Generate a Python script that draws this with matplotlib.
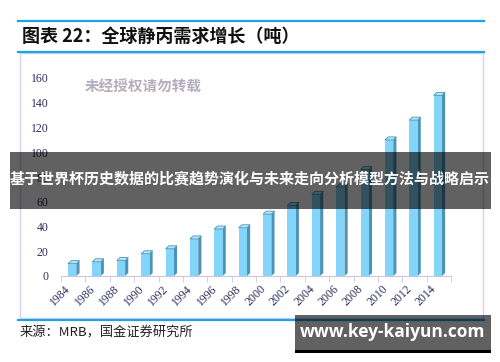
import matplotlib.pyplot as plt
import numpy as np
from matplotlib.patches import Polygon, Rectangle
from matplotlib.lines import Line2D

plt.rcParams['font.family'] = ['Noto Sans CJK SC', 'DejaVu Sans']

years = ['1984', '1986', '1988', '1990', '1992', '1994', '1996', '1998',
         '2000', '2002', '2004', '2006', '2008', '2010', '2012', '2014']
demand = [10, 11.5, 12.5, 18, 22, 30, 38, 39,
          50, 57, 66, 72, 86, 110, 126, 146]
yticks = [0, 20, 40, 60, 80, 100, 120, 140, 160]

title = '图表 22：全球静丙需求增长（吨）'
source = '来源：MRB，国金证券研究所'
stamp = '未经授权请勿转载'
banner = '基于世界杯历史数据的比赛趋势演化与未来走向分析模型方法与战略启示'
site = 'www.key-kaiyun.com'

blue_line = '#1ca2e6'
front = '#84d5fa'
side = '#4d93b4'
top = '#b4e8fc'
tick_col = '#2e2e5e'

fig = plt.figure(figsize=(5, 3.62), dpi=100)
W, H = 500, 362


def fx(px):
    return px / W


def fy(py):
    return 1 - py / H


# frame and header lines
fig.add_artist(Rectangle((fx(20), fy(318)), fx(463), 265 / H, transform=fig.transFigure,
                         fill=False, edgecolor='#d6d6ea', lw=1))
for py in (20.5, 52, 319.5):
    fig.add_artist(Line2D([fx(18), fx(484)], [fy(py), fy(py)], transform=fig.transFigure,
                          color=blue_line, lw=1.6))

fig.text(fx(22), fy(36), title, fontsize=13, fontweight='bold',
         color='#111111', va='center', ha='left')
fig.text(fx(20), fy(333), source, fontsize=9.5, color='#222222', va='center', ha='left')

ax = fig.add_axes([fx(61), fy(276), fx(451 - 61), (276 - 78) / H])
ax.set_facecolor('none')
x = np.arange(len(years))
w = 0.34
dx = 0.13
dy = 2.4
for xi, v in zip(x, demand):
    l, r = xi - w / 2 - 0.04, xi + w / 2 - 0.04
    ax.add_patch(Polygon([(r, 0), (r + dx, dy), (r + dx, v + dy), (r, v)],
                         closed=True, facecolor=side, edgecolor='none'))
    ax.add_patch(Rectangle((l, 0), w, v, facecolor=front, edgecolor='none'))
    ax.add_patch(Polygon([(l, v), (r, v), (r + dx, v + dy), (l + dx, v + dy)],
                         closed=True, facecolor=top, edgecolor=side, lw=0.6))

ax.set_xlim(-0.5, len(years) - 0.5)
ax.set_ylim(0, 160)
ax.set_yticks(yticks)
ax.set_yticklabels([str(t) for t in yticks], family=['Liberation Serif', 'DejaVu Serif'],
                   fontsize=8.5, color=tick_col)
ax.set_xticks(x)
ax.set_xticklabels(years, rotation=45, ha='right', va='top', rotation_mode='default',
                   family=['Liberation Serif', 'DejaVu Serif'], fontsize=8.5, color=tick_col)
ax.set_xticks(np.arange(len(years) + 1) - 0.5, minor=True)
ax.tick_params(axis='x', which='major', length=0, pad=5)
ax.tick_params(axis='x', which='minor', length=4, color='#c8c8e2', direction='out')
ax.tick_params(axis='y', length=0, pad=9)
for s in ('top', 'right', 'left'):
    ax.spines[s].set_visible(False)
ax.spines['bottom'].set_color('#c8c8e2')

fig.text(fx(143), fy(86), stamp, fontsize=10.5, fontweight='bold', color='#b3adbd',
         ha='center', va='center')

# overlay banner
fig.add_artist(Rectangle((fx(10), fy(209)), fx(481), 57 / H, transform=fig.transFigure,
                         facecolor='black', alpha=0.62, edgecolor='none', zorder=10))
fig.text(0.5, fy(179), banner, fontsize=10.8, fontweight='bold', color='white',
         ha='center', va='center', zorder=11)

# site box
fig.add_artist(Rectangle((fx(295), fy(350)), fx(196), 35 / H, transform=fig.transFigure,
                         facecolor='black', alpha=0.62, edgecolor='none', zorder=10))
fig.add_artist(Rectangle((fx(295), fy(352.5)), fx(196), 2.5 / H, transform=fig.transFigure,
                         facecolor='black', edgecolor='none', zorder=10))
fig.text(fx(393), fy(332), site, fontsize=12.5, fontweight='bold', color='white',
         family=['Open Sans', 'DejaVu Sans'], ha='center', va='center', zorder=11)

fig.savefig('out.png', dpi=100)
